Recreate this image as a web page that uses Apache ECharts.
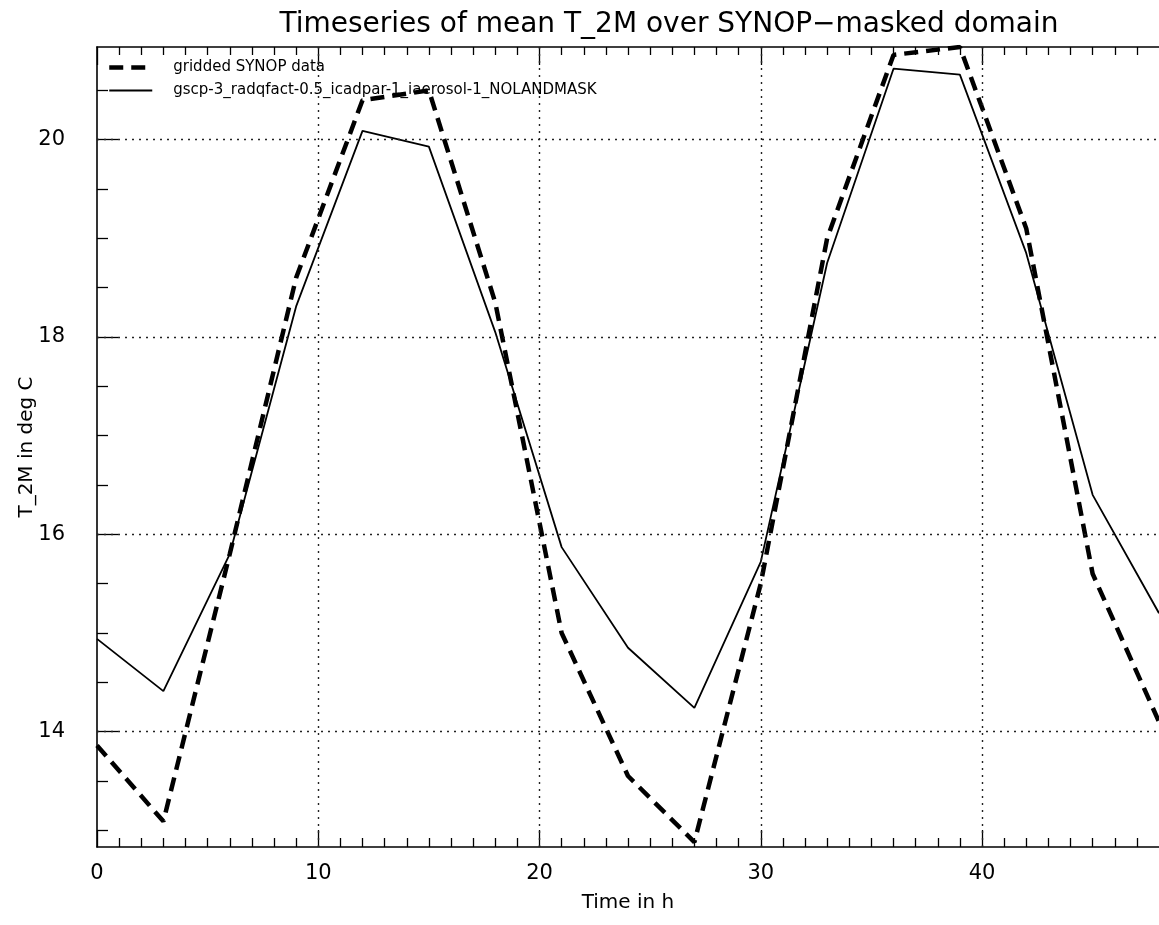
<!DOCTYPE html>
<html>
<head>
<meta charset="utf-8">
<title>Timeseries of mean T_2M</title>
<script src="https://cdn.jsdelivr.net/npm/echarts@6/dist/echarts.min.js"></script>
<style>
html,body{margin:0;padding:0;background:#fff;}
#chart{width:1159px;height:925px;}
</style>
</head>
<body>
<div id="chart"></div>
<script type="text/javascript">
// time steps (h) and the two curves
var hours = [0, 3, 6, 9, 12, 15, 18, 21, 24, 27, 30, 33, 36, 39, 42, 45, 48];
var synopData = [13.86, 13.09, 15.8, 18.6, 20.4, 20.5, 18.35, 15.0, 13.55, 12.88, 15.5, 19.0, 20.86, 20.94, 19.1, 15.6, 14.1];
var modelData = [14.94, 14.41, 15.8, 18.31, 20.09, 19.93, 18.05, 15.87, 14.85, 14.24, 15.72, 18.75, 20.72, 20.66, 18.85, 16.4, 15.2];
var seriesNames = ['gridded SYNOP data', 'gscp-3_radqfact-0.5_icadpar-1_iaerosol-1_NOLANDMASK'];

// axis ranges and tick positions
var xRange = [0, 48];
var yRange = [12.83, 20.94];
var xMajorTicks = [0, 10, 20, 30, 40];
var xMinorTicks = [1, 2, 3, 4, 5, 6, 7, 8, 9, 11, 12, 13, 14, 15, 16, 17, 18, 19, 21, 22, 23, 24, 25, 26, 27, 28, 29,
                   31, 32, 33, 34, 35, 36, 37, 38, 39, 41, 42, 43, 44, 45, 46, 47];
var yMajorTicks = [14, 16, 18, 20];
var yMinorTicks = [13, 13.5, 14.5, 15, 15.5, 16.5, 17, 17.5, 18.5, 19, 19.5, 20.5];

var myChart = echarts.init(document.getElementById('chart'));
var black = '#000';
var fontFam = "'DejaVu Sans', sans-serif";

function pairs(xs, ys) {
	var out = [];
	for (var i = 0; i < xs.length; i++) {
		out.push([xs[i], ys[i]]);
	}
	return out;
}

function xAxisDef(gridIndex, pos, ticks, len, withLine, withLabel) {
	var ax = {
		type: 'value',
		gridIndex: gridIndex,
		position: pos,
		min: xRange[0],
		max: xRange[1],
		axisLine: { show: withLine, onZero: false, lineStyle: { color: black, width: 1.6 } },
		axisTick: { show: true, inside: true, length: len, customValues: ticks, lineStyle: { color: black, width: 1.3 } },
		axisLabel: { show: false },
		splitLine: { show: false }
	};
	if (withLabel) {
		ax.axisLabel = { show: true, customValues: xMajorTicks, color: black, fontFamily: fontFam, fontSize: 21, margin: 16 };
		ax.name = 'Time in h';
		ax.nameLocation = 'middle';
		ax.nameGap = 46;
		ax.nameMoveOverlap = false;
		ax.nameTextStyle = { color: black, fontFamily: fontFam, fontSize: 20 };
	}
	return ax;
}

function yAxisDef(gridIndex, ticks, len, withLine, withLabel) {
	var ax = {
		type: 'value',
		gridIndex: gridIndex,
		position: 'left',
		min: yRange[0],
		max: yRange[1],
		axisLine: { show: withLine, onZero: false, lineStyle: { color: black, width: 1.6 } },
		axisTick: { show: true, inside: true, length: len, customValues: ticks, lineStyle: { color: black, width: 1.3 } },
		axisLabel: { show: false },
		splitLine: { show: false }
	};
	if (withLabel) {
		ax.axisLabel = { show: true, customValues: yMajorTicks, color: black, fontFamily: fontFam, fontSize: 21, margin: 32 };
		ax.name = 'T_2M in deg C';
		ax.nameLocation = 'middle';
		ax.nameGap = 60;
		ax.nameRotate = 90;
		ax.nameMoveOverlap = false;
		ax.nameTextStyle = { color: black, fontFamily: fontFam, fontSize: 20 };
	}
	return ax;
}

// dotted grid lines at the major ticks
var gridLines = [];
for (var i = 1; i < xMajorTicks.length; i++) {
	gridLines.push({ xAxis: xMajorTicks[i] });
}
for (var j = 0; j < yMajorTicks.length; j++) {
	gridLines.push({ yAxis: yMajorTicks[j] });
}

var plotBox = { left: 97, top: 47, bottom: 78, right: -14, containLabel: false };

var option = {
	backgroundColor: '#fff',
	animation: false,
	color: [black, black],
	title: {
		text: 'Timeseries of mean T_2M over SYNOP\u2212masked domain',
		left: 664,
		top: 6,
		textAlign: 'center',
		textStyle: { color: black, fontFamily: fontFam, fontSize: 28, fontWeight: 'normal' }
	},
	legend: {
		orient: 'vertical',
		left: 102,
		top: 55,
		itemWidth: 43,
		itemHeight: 14,
		itemGap: 8,
		itemStyle: { opacity: 0 },
		lineStyle: { width: 'inherit', type: 'inherit' },
		textStyle: { color: black, fontFamily: fontFam, fontSize: 15, padding: [0, 0, 0, 16] },
		data: seriesNames
	},
	grid: [
		echarts.util.extend({}, plotBox),
		echarts.util.extend({}, plotBox)
	],
	xAxis: [
		xAxisDef(0, 'bottom', xMajorTicks, 17, true, true),
		xAxisDef(0, 'top', xMajorTicks, 18, true, false),
		xAxisDef(1, 'bottom', xMinorTicks, 9, false, false),
		xAxisDef(1, 'top', xMinorTicks, 8, false, false)
	],
	yAxis: [
		yAxisDef(0, yMajorTicks, 21, true, true),
		yAxisDef(1, yMinorTicks, 11, false, false)
	],
	series: [
		{
			type: 'line',
			xAxisIndex: 0,
			yAxisIndex: 0,
			data: [],
			silent: true,
			markLine: {
				silent: true,
				symbol: 'none',
				label: { show: false },
				lineStyle: { color: '#222', width: 1.4, type: [2, 5] },
				data: gridLines
			}
		},
		{
			name: seriesNames[0],
			type: 'line',
			xAxisIndex: 0,
			yAxisIndex: 0,
			data: pairs(hours, synopData),
			symbol: 'none',
			z: 4,
			itemStyle: { color: black },
			lineStyle: { color: black, width: 4.5, type: [14, 8] }
		},
		{
			name: seriesNames[1],
			type: 'line',
			xAxisIndex: 0,
			yAxisIndex: 0,
			data: pairs(hours, modelData),
			symbol: 'none',
			z: 3,
			itemStyle: { color: black },
			lineStyle: { color: black, width: 1.8 }
		}
	]
};
myChart.setOption(option);
</script>
</body>
</html>
